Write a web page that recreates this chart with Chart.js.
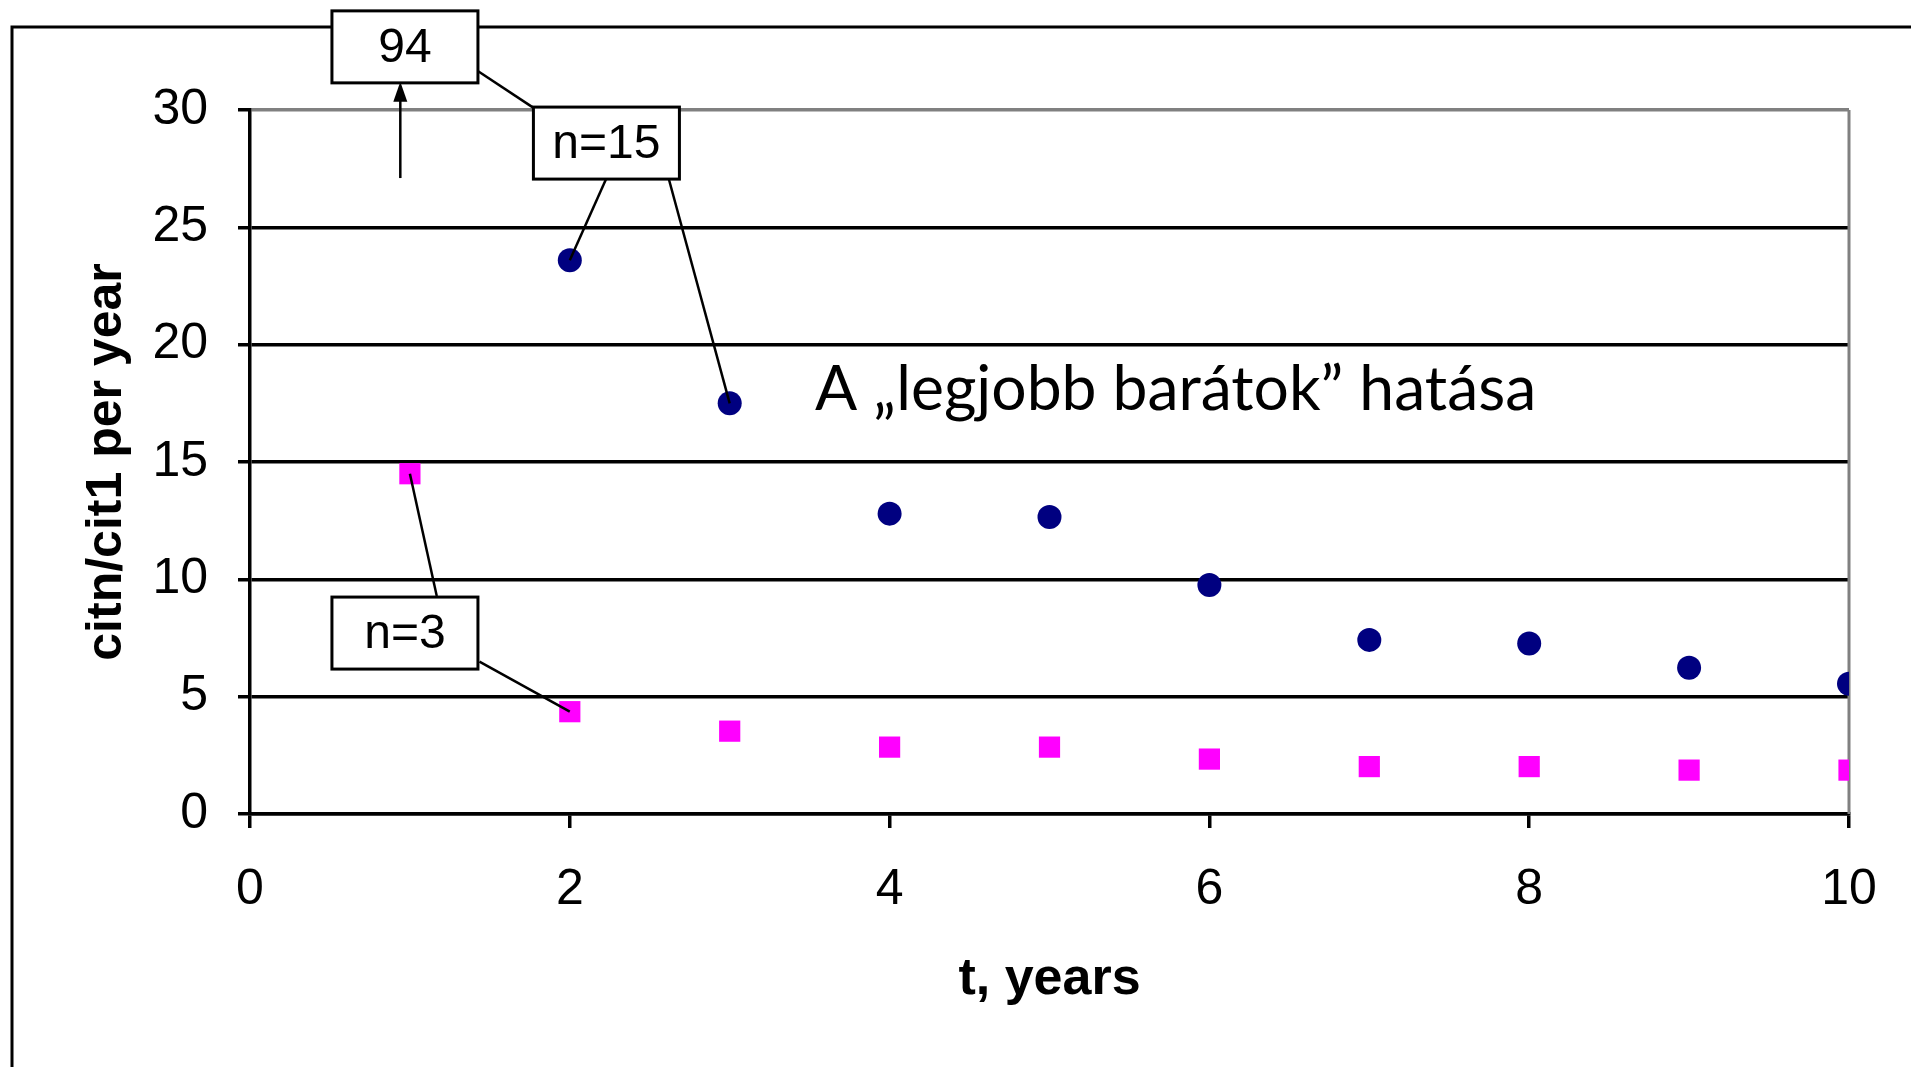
<!DOCTYPE html>
<html lang="hu">
<head>
<meta charset="utf-8">
<script src="https://cdn.jsdelivr.net/npm/chart.js"></script>
<title>citn/cit1 per year</title>
<style>
  html, body { margin: 0; padding: 0; background: #fff; }
  #wrap { width: 1911px; height: 1067px; position: relative; }
</style>
</head>
<body>
<div id="wrap"><canvas id="chart"></canvas></div>
<script>
    // values
    const years = [1, 2, 3, 4, 5, 6, 7, 8, 9, 10];
    const friends15 = [94, 23.6, 17.5, 12.8, 12.66, 9.76, 7.42, 7.27, 6.23, 5.55];
    const friends3 = [14.5, 4.36, 3.53, 2.85, 2.85, 2.34, 2.02, 2.02, 1.87, 1.87];
    const xTicks = [0, 2, 4, 6, 8, 10];
    const yTicks = [0, 5, 10, 15, 20, 25, 30];
    const xTitle = 't, years';
    const yTitle = 'citn/cit1 per year';
    const noteText = 'A \u201elegjobb barátok\u201d hatása';
    const boxLabels = ['94', 'n=15', 'n=3'];

    const ARIAL = '"Liberation Sans", Arial, sans-serif';

    function toPoints(values) {
        return years.map((x, i) => ({ x: x, y: values[i] }));
    }

    // call-out boxes, leader lines, arrow, note text, outer frame
    const notesPlugin = {
        id: 'notes',
        beforeDraw(chart) {
            const ctx = chart.ctx;
            ctx.save();
            ctx.strokeStyle = '#000';
            ctx.lineWidth = 3;
            ctx.beginPath();
            ctx.moveTo(12, chart.height);
            ctx.lineTo(12, 27);
            ctx.lineTo(chart.width, 27);
            ctx.stroke();
            ctx.restore();
        },
        beforeDatasetsDraw(chart) {
            const ctx = chart.ctx;
            const a = chart.chartArea;
            ctx.save();
            ctx.strokeStyle = '#808080';
            ctx.lineWidth = 3;
            ctx.beginPath();
            ctx.moveTo(a.right, a.top);
            ctx.lineTo(a.right, a.bottom);
            ctx.stroke();
            ctx.restore();
        },
        afterDatasetsDraw(chart) {
            const ctx = chart.ctx;
            const sx = chart.scales.x, sy = chart.scales.y;
            const px = (x, y) => [sx.getPixelForValue(x), sy.getPixelForValue(y)];

            function line(from, to) {
                const p = px(from[0], from[1]), q = px(to[0], to[1]);
                ctx.beginPath();
                ctx.moveTo(p[0], p[1]);
                ctx.lineTo(q[0], q[1]);
                ctx.stroke();
            }

            function box(label, cx, cy) {
                const c = px(cx, cy);
                const w = 146, h = 72;
                ctx.fillStyle = '#fff';
                ctx.fillRect(c[0] - w / 2, c[1] - h / 2, w, h);
                ctx.lineWidth = 3;
                ctx.strokeRect(c[0] - w / 2, c[1] - h / 2, w, h);
                ctx.fillStyle = '#000';
                ctx.font = '48px ' + ARIAL;
                ctx.textAlign = 'center';
                ctx.textBaseline = 'middle';
                ctx.fillText(label, c[0], c[1] + 2);
            }

            ctx.save();
            ctx.strokeStyle = '#000';
            ctx.lineWidth = 2.5;

            // leader lines
            line([1.427, 31.65], [1.771, 30.1]);
            line([2.229, 27.09], [years[1], friends15[1]]);
            line([2.618, 27.09], [years[2], friends15[2]]);
            line([1.168, 9.29], [years[0], friends3[0]]);
            line([1.435, 6.49], [years[1], friends3[1]]);

            // arrow pointing to the off-scale value
            line([0.94, 27.1], [0.94, 30.4]);
            const tip = px(0.94, 31.2);
            ctx.fillStyle = '#000';
            ctx.beginPath();
            ctx.moveTo(tip[0], tip[1]);
            ctx.lineTo(tip[0] - 7, tip[1] + 20);
            ctx.lineTo(tip[0] + 7, tip[1] + 20);
            ctx.closePath();
            ctx.fill();

            box(boxLabels[0], 0.969, 32.69);
            box(boxLabels[1], 2.229, 28.59);
            box(boxLabels[2], 0.969, 7.71);

            // note text, fitted to the width it has in the picture
            ctx.font = '100px Lato, "Open Sans", sans-serif';
            const size = 100 * 721 / ctx.measureText(noteText).width;
            ctx.font = size.toFixed(1) + 'px Lato, "Open Sans", sans-serif';
            ctx.textAlign = 'left';
            ctx.textBaseline = 'alphabetic';
            ctx.fillStyle = '#000';
            const t = px(3.534, 17.23);
            ctx.fillText(noteText, t[0], t[1]);
            ctx.restore();
        }
    };

    new Chart(document.getElementById('chart'), {
        type: 'scatter',
        data: {
            datasets: [{
                label: 'n=15',
                data: toPoints(friends15),
                pointStyle: 'circle',
                pointRadius: 12,
                pointHoverRadius: 12,
                backgroundColor: '#000080',
                borderColor: '#000080',
                borderWidth: 0
            }, {
                label: 'n=3',
                data: toPoints(friends3),
                pointStyle: 'rect',
                pointRadius: 15,
                pointHoverRadius: 15,
                backgroundColor: '#ff00ff',
                borderColor: '#ff00ff',
                borderWidth: 0
            }]
        },
        options: {
            responsive: true,
            maintainAspectRatio: false,
            animation: false,
            layout: { padding: { top: 110, right: 62, bottom: 0, left: 0 } },
            plugins: {
                legend: { display: false },
                tooltip: { enabled: false }
            },
            scales: {
                x: {
                    type: 'linear',
                    min: 0,
                    max: 10,
                    afterBuildTicks: scale => { scale.ticks = xTicks.map(v => ({ value: v })); },
                    afterFit: scale => { scale.height = 253; },
                    grid: { drawOnChartArea: false, color: '#000', lineWidth: 3.5, tickLength: 14 },
                    border: { color: '#000', width: 3.5 },
                    ticks: { color: '#000', padding: 32, maxRotation: 0, font: { family: ARIAL, size: 50 } },
                    title: {
                        display: true,
                        text: xTitle,
                        color: '#000',
                        padding: { top: 0, bottom: 56 },
                        font: { family: ARIAL, size: 52, weight: 'bold' }
                    }
                },
                y: {
                    min: 0,
                    max: 30,
                    afterBuildTicks: scale => { scale.ticks = yTicks.map(v => ({ value: v })); },
                    afterFit: scale => { scale.width = 250; },
                    grid: {
                        color: c => (c.tick && c.tick.value === 30 ? '#808080' : '#000'),
                        tickColor: '#000',
                        lineWidth: 3.5,
                        tickLength: 12
                    },
                    border: { color: '#000', width: 3.5 },
                    ticks: { color: '#000', padding: 30, font: { family: ARIAL, size: 50 } },
                    title: {
                        display: true,
                        text: yTitle,
                        color: '#000',
                        padding: { top: 77, bottom: 0 },
                        font: { family: ARIAL, size: 50, weight: 'bold' }
                    }
                }
            }
        },
        plugins: [notesPlugin]
    });
</script>
</body>
</html>
